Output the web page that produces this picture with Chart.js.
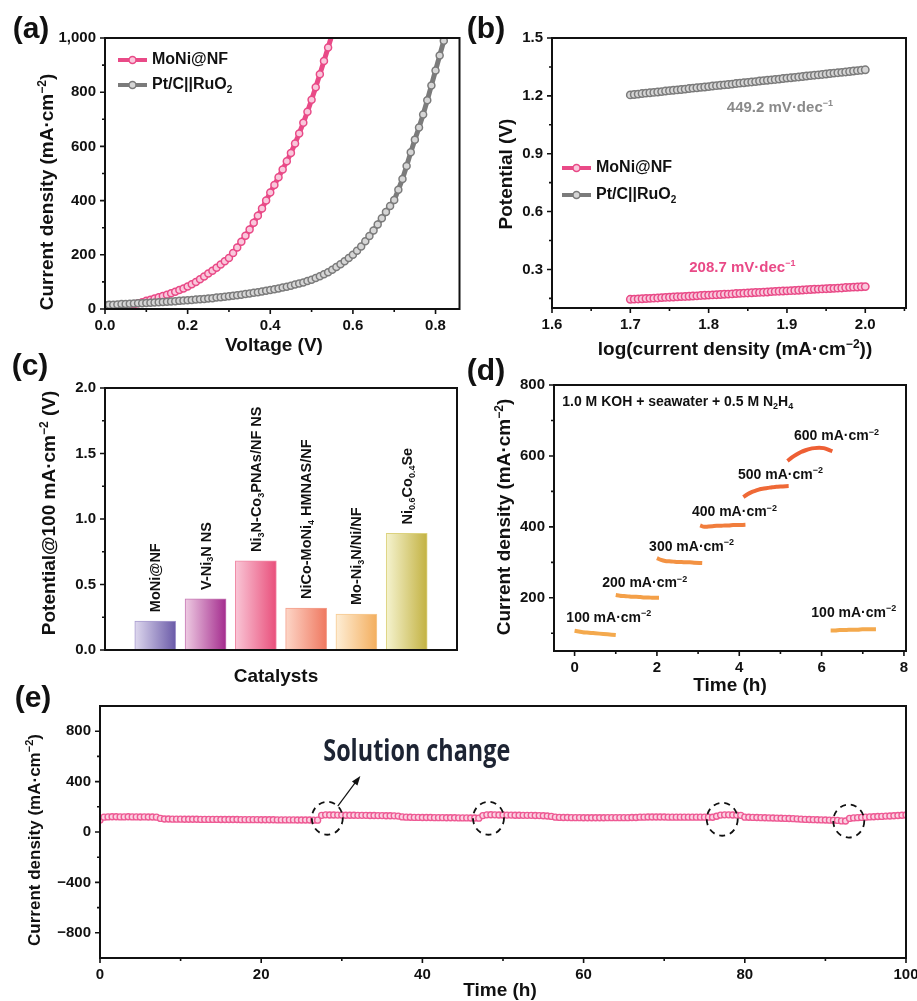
<!DOCTYPE html>
<html>
<head>
<meta charset="utf-8">
<script src="https://cdn.jsdelivr.net/npm/chart.js@4.4.1/dist/chart.umd.min.js"></script>
<style>
  html, body { margin: 0; padding: 0; background: #fff; }
  #page { position: relative; width: 917px; height: 1001px; overflow: hidden; background: #fff; }
  canvas { position: absolute; }
</style>
</head>
<body>
<div id="page">
  <canvas id="cvA" width="465" height="360" style="left:0px;top:0px"></canvas>
  <canvas id="cvB" width="452" height="362" style="left:465px;top:0px"></canvas>
  <canvas id="cvC" width="465" height="350" style="left:0px;top:340px"></canvas>
  <canvas id="cvD" width="452" height="355" style="left:465px;top:345px"></canvas>
  <canvas id="cvE" width="917" height="326" style="left:0px;top:675px"></canvas>
</div>
<script>
// ---------- (a) polarisation curves, sampled every 0.01 V from 0 V ----------
const voltStep = 0.01;
const moniLSV = [0, 2, 4, 6, 8, 10, 13, 17, 21, 25,
  30, 34, 39, 43, 48, 53, 58, 64, 70, 76,
  83, 91, 100, 110, 120, 131, 141, 152, 164, 176,
  188, 207, 227, 248, 270, 293, 318, 344, 371, 400,
  430, 458, 486, 515, 545, 576, 611, 648, 687, 728,
  772, 818, 866, 915, 965, 1015];
const ptcLSV = [15, 16, 16, 17, 18, 18, 19, 20, 21, 21,
  22, 23, 24, 25, 26, 27, 28, 29, 30, 31,
  32, 33, 35, 36, 37, 39, 40, 42, 43, 45,
  47, 49, 51, 53, 55, 57, 60, 62, 65, 67,
  70, 73, 76, 79, 82, 86, 90, 94, 98, 103,
  108, 114, 121, 128, 136, 145, 155, 165, 176, 188,
  200, 215, 231, 250, 269, 290, 312, 335, 358, 380,
  402, 440, 480, 528, 578, 625, 670, 718, 770, 825,
  880, 935, 990];
const voltTicks = [0, 0.2, 0.4, 0.6, 0.8];
const voltMinor = [0.1, 0.3, 0.5, 0.7];
const lsvTicks = [0, 200, 400, 600, 800, 1000];
const lsvMinor = [100, 300, 500, 700, 900];

// ---------- (b) Tafel plots, sampled every 0.005 from log j = 1.7 ----------
const tafelStart = 1.7;
const tafelStep = 0.005;
const ptcTafel = [1.205, 1.207, 1.209, 1.212, 1.214, 1.216, 1.218, 1.220, 1.222, 1.225,
  1.227, 1.229, 1.231, 1.233, 1.235, 1.238, 1.240, 1.242, 1.244, 1.246,
  1.248, 1.251, 1.253, 1.255, 1.257, 1.259, 1.261, 1.264, 1.266, 1.268,
  1.270, 1.272, 1.274, 1.277, 1.279, 1.281, 1.283, 1.285, 1.287, 1.290,
  1.292, 1.294, 1.296, 1.298, 1.300, 1.303, 1.305, 1.307, 1.309, 1.311,
  1.313, 1.316, 1.318, 1.320, 1.322, 1.324, 1.326, 1.329, 1.331, 1.333, 1.335];
const moniTafel = [0.145, 0.146, 0.147, 0.148, 0.149, 0.150, 0.151, 0.152, 0.154, 0.155,
  0.156, 0.157, 0.158, 0.159, 0.160, 0.161, 0.162, 0.163, 0.165, 0.166,
  0.167, 0.168, 0.169, 0.170, 0.171, 0.172, 0.173, 0.175, 0.176, 0.177,
  0.178, 0.179, 0.180, 0.181, 0.182, 0.183, 0.185, 0.186, 0.187, 0.188,
  0.189, 0.190, 0.191, 0.192, 0.193, 0.195, 0.196, 0.197, 0.198, 0.199,
  0.200, 0.201, 0.202, 0.203, 0.204, 0.206, 0.207, 0.208, 0.209, 0.210, 0.211];
const logTicks = [1.6, 1.7, 1.8, 1.9, 2.0];
const logMinor = [1.65, 1.75, 1.85, 1.95, 2.05];
const potTicks = [0.3, 0.6, 0.9, 1.2, 1.5];
const potMinor = [0.15, 0.45, 0.75, 1.05, 1.35];

// ---------- (c) potential @100 mA cm-2 ----------
const catalysts = ['MoNi@NF', 'V-Ni_{3}N NS', 'Ni_{3}N-Co_{3}PNAs/NF NS',
  'NiCo-MoNi_{4} HMNAS/NF', 'Mo-Ni_{3}N/Ni/NF', 'Ni_{0.6}Co_{0.4}Se'];
const catPotential = [0.22, 0.39, 0.68, 0.32, 0.275, 0.89];
const cmpTicks = [0, 0.5, 1.0, 1.5, 2.0];
const cmpMinor = [0.25, 0.75, 1.25, 1.75];

// ---------- (d) multi-step chronopotentiometry ----------
const stepNames = ['100', '200', '300', '400', '500', '600', '100'];
const stepTimes = [
  [0, 0.1, 0.2, 0.3, 0.4, 0.5, 0.6, 0.7, 0.8, 0.9, 1.0],
  [1.0, 1.1, 1.2, 1.3, 1.4, 1.5, 1.6, 1.7, 1.8, 1.9, 2.05],
  [2.0, 2.1, 2.2, 2.3, 2.4, 2.5, 2.6, 2.7, 2.8, 2.9, 3.1],
  [3.05, 3.15, 3.25, 3.35, 3.45, 3.55, 3.65, 3.75, 3.85, 3.95, 4.15],
  [4.1, 4.2, 4.3, 4.4, 4.5, 4.6, 4.7, 4.8, 4.9, 5.0, 5.2],
  [5.17, 5.28, 5.39, 5.5, 5.61, 5.72, 5.83, 5.94, 6.05, 6.16, 6.26],
  [6.22, 6.33, 6.44, 6.55, 6.66, 6.77, 6.88, 6.99, 7.1, 7.21, 7.32]
];
const stepCurrents = [
  [107, 105, 103, 102, 101, 100, 99, 98, 97, 96, 95],
  [208, 206, 205, 204, 203, 203, 202, 201, 201, 200, 200],
  [312, 307, 304, 303, 302, 301, 301, 300, 300, 299, 298],
  [404, 400, 401, 402, 403, 403, 404, 404, 405, 405, 406],
  [484, 492, 498, 502, 506, 508, 510, 512, 513, 514, 515],
  [586, 596, 604, 611, 616, 620, 622, 623, 622, 618, 613],
  [108, 108, 109, 109, 110, 110, 110, 111, 111, 111, 111]
];
const stepTicksX = [0, 2, 4, 6, 8];
const stepMinorX = [1, 3, 5, 7];
const stepTicksY = [200, 400, 600, 800];
const stepMinorY = [100, 300, 500, 700];

// ---------- (e) long-term stability, sampled every 0.5 h ----------
const stabStep = 0.5;
const stabCurrent = [95,
  118, 120, 121, 121, 120, 120, 121, 120, 120, 119, 120, 119, 119, 118,
  108,
  103, 103, 102, 102, 102, 101, 101, 101, 101, 100, 100, 100, 100, 100, 99, 99, 99, 99, 99, 98,
  98, 98, 98, 98, 97, 97, 97, 97, 96, 96, 96, 96, 96, 95, 95, 95, 95, 94, 94,
  132,
  136, 135, 135, 134, 134, 133, 133, 133, 132, 132, 132, 131, 131, 130, 130, 129, 129, 128, 126,
  120, 118, 117, 116, 116, 115, 115, 115, 114, 114, 114, 113, 113, 113, 112, 112, 112, 111, 111, 110,
  130,
  136, 137, 136, 135, 135, 134, 134, 133, 133, 132, 132, 132, 131, 130, 129, 127, 124,
  118, 116, 115, 115, 114, 114, 114, 113, 113, 113, 113, 113, 113, 114, 114, 114, 114, 114, 114, 115, 115,
  118, 118, 119, 119, 119, 119, 119, 118, 118, 118, 118, 118, 118, 118, 118, 118, 118, 118, 117,
  125,
  134, 136, 136, 135, 134, 132,
  118, 117, 116, 115, 114, 113, 112, 111, 110, 109, 108, 107, 106,
  104, 102, 100, 99, 98, 97, 96, 95, 94, 93, 92,
  88, 87,
  108, 112, 114, 116, 118, 120, 121, 123, 124, 126, 127, 129, 131, 133, 135];
const stabTicksX = [0, 20, 40, 60, 80, 100];
const stabMinorX = [10, 30, 50, 70, 90];
const stabTicksY = [-800, -400, 0, 400, 800];
const stabMinorY = [-600, -200, 200, 600];
const changeTimes = [28.2, 48.2, 77.2, 92.9];
const changeCurrents = [109, 109, 101, 87];

// ---------- drawing helpers ----------
const FONT = '"Liberation Sans", Arial, Helvetica, sans-serif';
const PINK = '#e94a87';
const PINK_FILL = '#f9c8dc';
const GRAY = '#7b7b7b';
const GRAY_FILL = '#d6d6d6';

function richParts(str) {
  const parts = [];
  const re = /([_^])\{([^}]*)\}/g;
  let last = 0, m;
  while ((m = re.exec(str))) {
    if (m.index > last) parts.push({ t: str.slice(last, m.index), k: '' });
    parts.push({ t: m[2], k: m[1] });
    last = re.lastIndex;
  }
  if (last < str.length) parts.push({ t: str.slice(last), k: '' });
  return parts;
}

// text with _{sub} and ^{sup}, vertically centred on y
function drawRich(ctx, str, x, y, size, opts = {}) {
  const align = opts.align || 'left';
  const parts = richParts(str);
  const small = Math.round(size * 0.62);
  let total = 0;
  parts.forEach(p => {
    ctx.font = `bold ${p.k ? small : size}px ${FONT}`;
    p.w = ctx.measureText(p.t).width;
    total += p.w;
  });
  let cx = align === 'center' ? x - total / 2 : (align === 'right' ? x - total : x);
  ctx.save();
  ctx.fillStyle = opts.color || '#111';
  ctx.textBaseline = 'middle';
  ctx.textAlign = 'left';
  parts.forEach(p => {
    ctx.font = `bold ${p.k ? small : size}px ${FONT}`;
    const dy = p.k === '_' ? size * 0.3 : (p.k === '^' ? -size * 0.3 : 0);
    ctx.fillText(p.t, cx, y + dy);
    cx += p.w;
  });
  ctx.restore();
  return total;
}

function vText(ctx, str, x, y, size, align) {
  ctx.save();
  ctx.translate(x, y);
  ctx.rotate(-Math.PI / 2);
  drawRich(ctx, str, 0, 0, size, { align: align || 'center' });
  ctx.restore();
}

function frame(chart, t) {
  const { ctx, chartArea: a } = chart;
  const xs = chart.scales.x, ys = chart.scales.y;
  ctx.save();
  ctx.strokeStyle = '#111';
  ctx.lineWidth = 1.6;
  ctx.beginPath();
  const xt = (vals, len) => vals.forEach(v => {
    const p = xs.getPixelForValue(v);
    ctx.moveTo(p, a.bottom); ctx.lineTo(p, a.bottom + len);
  });
  const yt = (vals, len) => vals.forEach(v => {
    const p = ys.getPixelForValue(v);
    ctx.moveTo(a.left, p); ctx.lineTo(a.left - len, p);
  });
  xt(t.xMajor || [], 5); xt(t.xMinor || [], 3);
  yt(t.yMajor || [], 5); yt(t.yMinor || [], 3);
  ctx.stroke();
  ctx.lineWidth = 2;
  ctx.strokeRect(a.left, a.top, a.right - a.left, a.bottom - a.top);
  ctx.restore();
}

function legendItem(ctx, x, y, color, fill, label) {
  ctx.save();
  ctx.strokeStyle = color;
  ctx.lineWidth = 4;
  ctx.beginPath(); ctx.moveTo(x, y); ctx.lineTo(x + 29, y); ctx.stroke();
  ctx.lineWidth = 1.5; ctx.fillStyle = fill;
  ctx.beginPath(); ctx.arc(x + 14.5, y, 3.5, 0, Math.PI * 2); ctx.fill(); ctx.stroke();
  ctx.restore();
  drawRich(ctx, label, x + 34, y, 16);
}

function axis(min, max, ticks, fmt, fit, isX, show = true) {
  return {
    type: 'linear', min, max, offset: false,
    grid: { display: false, drawTicks: false },
    border: { display: false },
    afterBuildTicks: s => { s.ticks = ticks.map(v => ({ value: v })); },
    ticks: {
      display: show, color: '#111', padding: isX ? 8 : 9,
      font: { family: FONT, size: 15, weight: 'bold' },
      maxRotation: 0, autoSkip: false, callback: v => fmt(v)
    },
    afterFit: s => {
      if (isX) s.height = fit; else s.width = fit;
      s.paddingLeft = 0; s.paddingRight = 0; s.paddingTop = 0; s.paddingBottom = 0;
    }
  };
}

function baseOptions(pad) {
  return {
    responsive: false, animation: false, events: [],
    layout: { padding: pad },
    plugins: { legend: { display: false }, tooltip: { enabled: false } }
  };
}

const fix1 = v => v.toFixed(1);
const plain = v => (v < 0 ? '\u2212' + Math.abs(v) : String(v));

// ---------- (a) ----------
const optA = baseOptions({ top: 38, right: 3, left: 0, bottom: 0 });
optA.scales = {
  x: axis(0, 0.858, voltTicks, fix1, 51, true),
  y: axis(0, 1000, lsvTicks, v => v.toLocaleString('en-US'), 105, false)
};
new Chart(document.getElementById('cvA'), {
  type: 'line',
  data: {
    datasets: [
      { data: ptcLSV.map((j, i) => ({ x: i * voltStep, y: j })), order: 0,
        borderColor: GRAY, borderWidth: 5, pointRadius: 3.5, pointBorderWidth: 1.5,
        pointBorderColor: GRAY, pointBackgroundColor: GRAY_FILL },
      { data: moniLSV.map((j, i) => ({ x: i * voltStep, y: j })), order: 1,
        borderColor: PINK, borderWidth: 5, pointRadius: 3.5, pointBorderWidth: 1.5,
        pointBorderColor: PINK, pointBackgroundColor: PINK_FILL }
    ]
  },
  options: optA,
  plugins: [{
    id: 'decorA',
    afterDraw(chart) {
      const ctx = chart.ctx;
      frame(chart, { xMajor: voltTicks, xMinor: voltMinor, yMajor: lsvTicks, yMinor: lsvMinor });
      drawRich(ctx, '(a)', 31, 30, 30, { align: 'center' });
      legendItem(ctx, 118, 60, PINK, PINK_FILL, 'MoNi@NF');
      legendItem(ctx, 118, 85, GRAY, GRAY_FILL, 'Pt/C||RuO_{2}');
      drawRich(ctx, 'Voltage (V)', 274, 346, 19, { align: 'center' });
      vText(ctx, 'Current density (mA\u00b7cm^{\u22122})', 48, 192, 19);
    }
  }]
});

// ---------- (b) ----------
const optB = baseOptions({ top: 38, right: 11, left: 0, bottom: 0 });
optB.scales = {
  x: axis(1.6, 2.052, logTicks, fix1, 54, true),
  y: axis(0.1, 1.5, potTicks, fix1, 87, false)
};
new Chart(document.getElementById('cvB'), {
  type: 'line',
  data: {
    datasets: [
      { data: moniTafel.map((v, i) => ({ x: tafelStart + i * tafelStep, y: v })),
        borderColor: PINK, borderWidth: 4, pointRadius: 3.7, pointBorderWidth: 1.5,
        pointBorderColor: PINK, pointBackgroundColor: PINK_FILL },
      { data: ptcTafel.map((v, i) => ({ x: tafelStart + i * tafelStep, y: v })),
        borderColor: GRAY, borderWidth: 4, pointRadius: 3.7, pointBorderWidth: 1.5,
        pointBorderColor: GRAY, pointBackgroundColor: GRAY_FILL }
    ]
  },
  options: optB,
  plugins: [{
    id: 'decorB',
    afterDraw(chart) {
      const ctx = chart.ctx, xs = chart.scales.x, ys = chart.scales.y;
      frame(chart, { xMajor: logTicks, xMinor: logMinor, yMajor: potTicks, yMinor: potMinor });
      drawRich(ctx, '(b)', 21, 30, 30, { align: 'center' });
      legendItem(ctx, 97, 168, PINK, PINK_FILL, 'MoNi@NF');
      legendItem(ctx, 97, 195, GRAY, GRAY_FILL, 'Pt/C||RuO_{2}');
      drawRich(ctx, '449.2 mV\u00b7dec^{\u22121}', xs.getPixelForValue(1.891), ys.getPixelForValue(1.137), 15,
        { align: 'center', color: '#8a8a8a' });
      drawRich(ctx, '208.7 mV\u00b7dec^{\u22121}', xs.getPixelForValue(1.843), ys.getPixelForValue(0.307), 15,
        { align: 'center', color: PINK });
      drawRich(ctx, 'log(current density (mA\u00b7cm^{\u22122}))', 270, 350, 19, { align: 'center' });
      vText(ctx, 'Potential (V)', 42, 174, 19);
    }
  }]
});

// ---------- (c) ----------
const barShades = [
  ['#ded8ee', '#6a5aa8', '#a89ccf'],
  ['#eecbe2', '#a42c8e', '#c77ab5'],
  ['#f9c6d6', '#e94f7b', '#f08aa6'],
  ['#fdd6c7', '#ef7860', '#f4a08c'],
  ['#feeed6', '#f3ae5e', '#f6ca92'],
  ['#f5f3cf', '#c3b242', '#dcd27e']
];
function barFill(c) {
  if (c.type !== 'data') return '#ccc';
  const col = barShades[c.dataIndex];
  const chart = c.chart;
  if (!chart.chartArea) return col[1];
  const px = chart.scales.x.getPixelForValue(c.dataIndex + 1);
  const g = chart.ctx.createLinearGradient(px - 20.5, 0, px + 20.5, 0);
  g.addColorStop(0, col[0]);
  g.addColorStop(1, col[1]);
  return g;
}
const optC = baseOptions({ top: 48, right: 8, left: 0, bottom: 0 });
optC.scales = {
  x: axis(0, 7, [], fix1, 40, true, false),
  y: axis(0, 2, cmpTicks, fix1, 105, false)
};
new Chart(document.getElementById('cvC'), {
  type: 'bar',
  data: {
    datasets: [{
      data: catPotential.map((v, i) => ({ x: i + 1, y: v })),
      barThickness: 41, backgroundColor: barFill,
      borderColor: c => (c.type === 'data' ? barShades[c.dataIndex][2] : '#ccc'), borderWidth: 1
    }]
  },
  options: optC,
  plugins: [{
    id: 'decorC',
    afterDraw(chart) {
      const ctx = chart.ctx, xs = chart.scales.x, ys = chart.scales.y;
      frame(chart, { yMajor: cmpTicks, yMinor: cmpMinor });
      catalysts.forEach((name, i) => {
        vText(ctx, name, xs.getPixelForValue(i + 1) + 1, ys.getPixelForValue(catPotential[i]) - 9, 14.5, 'left');
      });
      drawRich(ctx, '(c)', 30, 27, 30, { align: 'center' });
      drawRich(ctx, 'Catalysts', 276, 337, 19, { align: 'center' });
      vText(ctx, 'Potential@100 mA\u00b7cm^{\u22122} (V)', 50, 173, 19);
    }
  }]
});

// ---------- (d) ----------
const stepColors = ['#f4a94d', '#f4a048', '#f39243', '#f17d3c', '#ef6936', '#ee5f34', '#f4a94d'];
const stepLabelAt = [[-0.2, 143], [0.67, 241], [1.81, 343], [2.85, 441], [3.97, 546], [5.33, 655], [5.75, 157]];
const optD = baseOptions({ top: 40, right: 11, left: 0, bottom: 0 });
optD.scales = {
  x: axis(-0.5, 8.05, stepTicksX, v => String(v), 49, true),
  y: axis(50, 800, stepTicksY, v => String(v), 89, false)
};
new Chart(document.getElementById('cvD'), {
  type: 'line',
  data: {
    datasets: stepTimes.map((ts, k) => ({
      data: ts.map((t, i) => ({ x: t, y: stepCurrents[k][i] })),
      borderColor: stepColors[k], borderWidth: 4, pointRadius: 0,
      cubicInterpolationMode: 'monotone'
    }))
  },
  options: optD,
  plugins: [{
    id: 'decorD',
    afterDraw(chart) {
      const ctx = chart.ctx, xs = chart.scales.x, ys = chart.scales.y;
      frame(chart, { xMajor: stepTicksX, xMinor: stepMinorX, yMajor: stepTicksY, yMinor: stepMinorY });
      stepNames.forEach((n, k) => {
        drawRich(ctx, n + ' mA\u00b7cm^{\u22122}', xs.getPixelForValue(stepLabelAt[k][0]),
          ys.getPixelForValue(stepLabelAt[k][1]), 14);
      });
      drawRich(ctx, '1.0 M KOH + seawater + 0.5 M N_{2}H_{4}', xs.getPixelForValue(-0.3), ys.getPixelForValue(751), 14);
      drawRich(ctx, '(d)', 21, 27, 30, { align: 'center' });
      drawRich(ctx, 'Time (h)', 265, 341, 19, { align: 'center' });
      vText(ctx, 'Current density (mA\u00b7cm^{\u22122})', 40, 172, 19);
    }
  }]
});

// ---------- (e) ----------
const optE = baseOptions({ top: 31, right: 11, left: 0, bottom: 0 });
optE.scales = {
  x: axis(0, 100, stabTicksX, v => String(v), 43, true),
  y: axis(-1000, 1000, stabTicksY, plain, 100, false)
};
new Chart(document.getElementById('cvE'), {
  type: 'line',
  data: {
    datasets: [{
      data: stabCurrent.map((j, i) => ({ x: i * stabStep, y: j })),
      borderColor: '#ee5a94', borderWidth: 3, pointRadius: 3, pointBorderWidth: 1.4,
      pointBorderColor: '#ee5a94', pointBackgroundColor: '#fbd2e2'
    }]
  },
  options: optE,
  plugins: [{
    id: 'decorE',
    afterDraw(chart) {
      const ctx = chart.ctx, xs = chart.scales.x, ys = chart.scales.y;
      frame(chart, { xMajor: stabTicksX, xMinor: stabMinorX, yMajor: stabTicksY, yMinor: stabMinorY });
      ctx.save();
      ctx.strokeStyle = '#111';
      ctx.lineWidth = 1.8;
      ctx.setLineDash([6, 5]);
      changeTimes.forEach((t, i) => {
        ctx.beginPath();
        ctx.ellipse(xs.getPixelForValue(t), ys.getPixelForValue(changeCurrents[i]), 15.5, 16.5, 0, 0, Math.PI * 2);
        ctx.stroke();
      });
      ctx.setLineDash([]);
      // arrow from first circle to the label
      const x0 = xs.getPixelForValue(29.5), y0 = ys.getPixelForValue(206);
      const x1 = xs.getPixelForValue(32.3), y1 = ys.getPixelForValue(445);
      const ang = Math.atan2(y1 - y0, x1 - x0);
      ctx.lineWidth = 1.2;
      ctx.beginPath(); ctx.moveTo(x0, y0); ctx.lineTo(x1 - 6 * Math.cos(ang), y1 - 6 * Math.sin(ang)); ctx.stroke();
      ctx.fillStyle = '#111';
      ctx.beginPath();
      ctx.moveTo(x1, y1);
      ctx.lineTo(x1 - 10 * Math.cos(ang - 0.35), y1 - 10 * Math.sin(ang - 0.35));
      ctx.lineTo(x1 - 10 * Math.cos(ang + 0.35), y1 - 10 * Math.sin(ang + 0.35));
      ctx.closePath(); ctx.fill();
      // label, condensed to the width it has in the figure
      ctx.font = 'bold 30px "Open Sans", sans-serif';
      const w = ctx.measureText('Solution change').width;
      ctx.translate(xs.getPixelForValue(27.7), ys.getPixelForValue(635));
      ctx.scale(187 / w, 1);
      ctx.fillStyle = '#1d2433';
      ctx.textBaseline = 'middle';
      ctx.fillText('Solution change', 0, 0);
      ctx.restore();
      drawRich(ctx, '(e)', 33, 24, 30, { align: 'center' });
      drawRich(ctx, 'Time (h)', 500, 316, 19, { align: 'center' });
      vText(ctx, 'Current density (mA\u00b7cm^{\u22122})', 35, 165, 17);
    }
  }]
});
</script>
</body>
</html>
